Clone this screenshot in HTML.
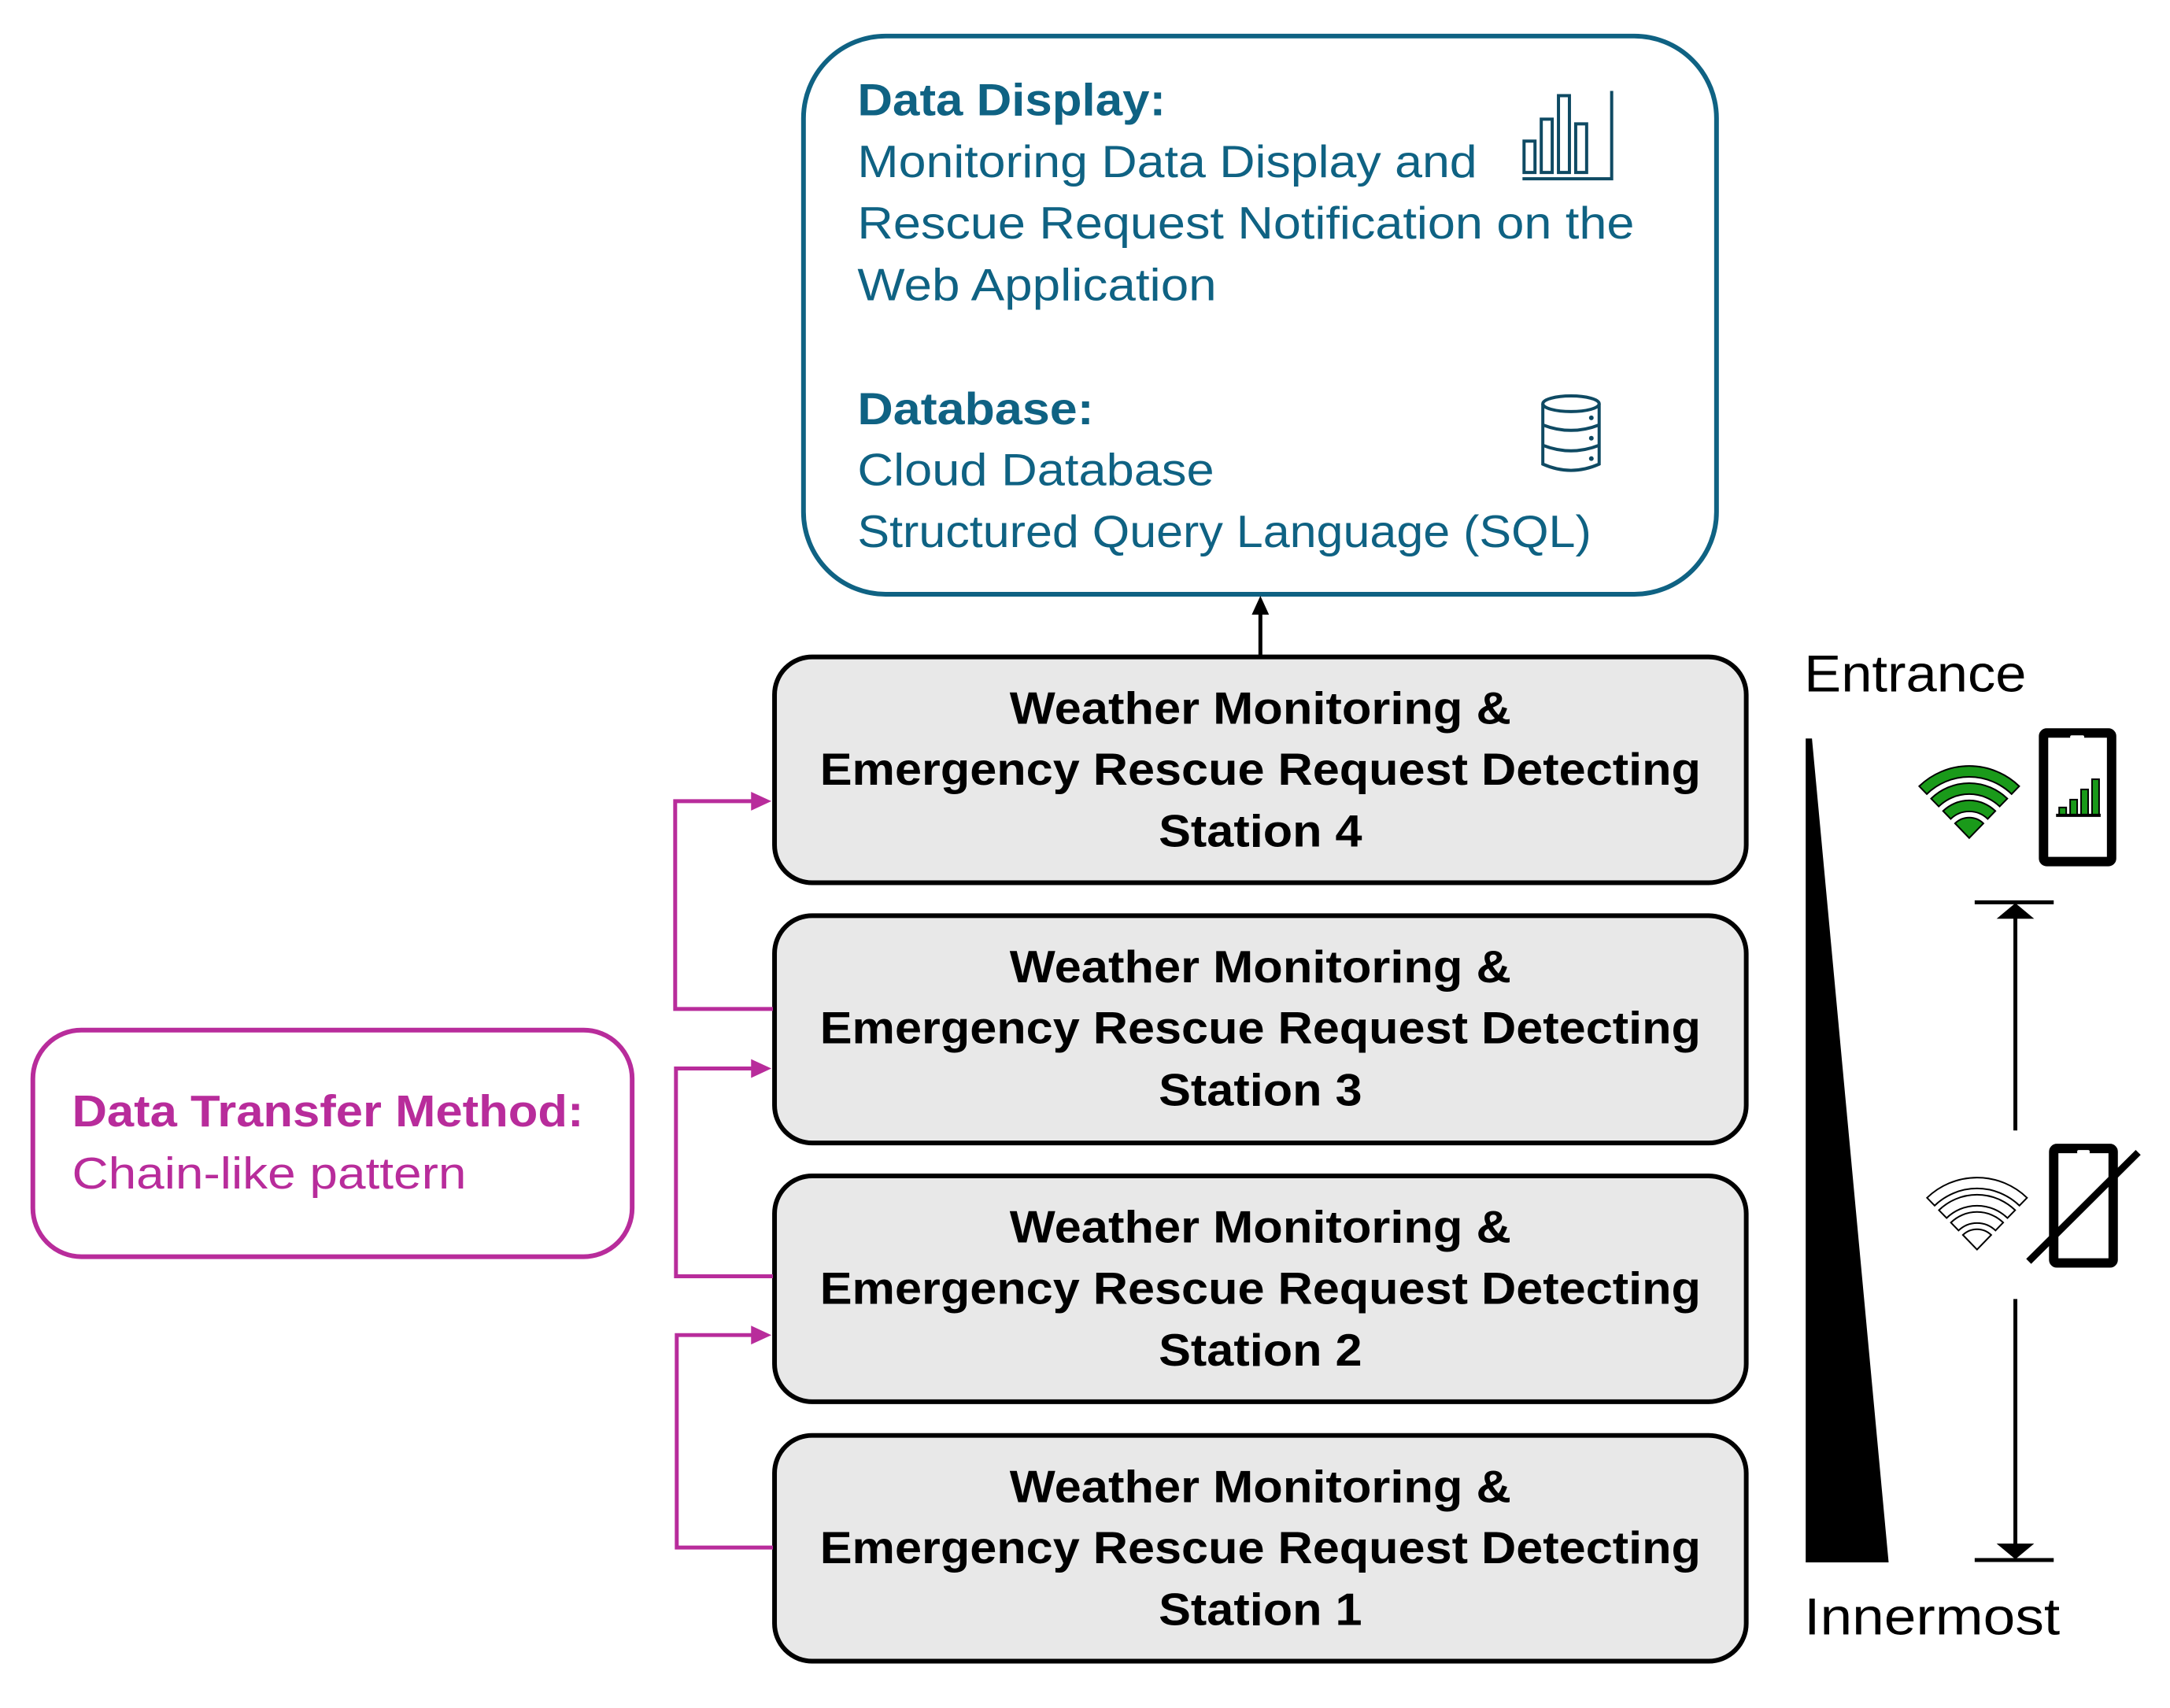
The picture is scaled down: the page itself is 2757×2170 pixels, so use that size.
<!DOCTYPE html>
<html><head><meta charset="utf-8"><style>
html,body{margin:0;padding:0;background:#fff}
svg{display:block}
.t{font-family:"Liberation Sans",sans-serif}
</style></head><body>
<svg width="2757" height="2170" viewBox="0 0 2757 2170" xmlns="http://www.w3.org/2000/svg">
<g transform="scale(0.994,0.996)">
<!-- Top box -->
<rect x="1027" y="46" width="1167" height="712" rx="105" fill="#fff" stroke="#0f6283" stroke-width="6"/>
<g class="t" fill="#0f6283" font-size="58" lengthAdjust="spacingAndGlyphs">
<text x="1096" y="147" font-weight="bold" textLength="394" lengthAdjust="spacingAndGlyphs">Data Display:</text>
<text x="1096" y="226" textLength="792" lengthAdjust="spacingAndGlyphs">Monitoring Data Display and</text>
<text x="1096" y="304" textLength="993" lengthAdjust="spacingAndGlyphs">Rescue Request Notification on the</text>
<text x="1096" y="383" textLength="459" lengthAdjust="spacingAndGlyphs">Web Application</text>
<text x="1096" y="541" font-weight="bold" textLength="302" lengthAdjust="spacingAndGlyphs">Database:</text>
<text x="1096" y="619" textLength="456" lengthAdjust="spacingAndGlyphs">Cloud Database</text>
<text x="1096" y="698" textLength="938" lengthAdjust="spacingAndGlyphs">Structured Query Language (SQL)</text>
</g>
<!-- bar chart icon -->
<g fill="none" stroke="#0f4a63" stroke-width="4">
<rect x="1948" y="180" width="14" height="40"/>
<rect x="1970" y="152" width="14" height="68"/>
<rect x="1992" y="122" width="14" height="98"/>
<rect x="2014" y="158" width="14" height="62"/>
<path d="M2060 116 V228 H1946"/>
</g>
<!-- database icon -->
<g fill="none" stroke="#0f4a63" stroke-width="4">
<ellipse cx="2008" cy="515" rx="36" ry="10"/>
<path d="M1972 515 V592 Q2008 608 2044 592 V515"/>
<path d="M1972 542 Q2008 556 2044 542 M1972 568 Q2008 582 2044 568"/>
</g>
<circle cx="2034" cy="533" r="3" fill="#0f4a63"/><circle cx="2034" cy="559" r="3" fill="#0f4a63"/><circle cx="2034" cy="585" r="3" fill="#0f4a63"/>
<!-- up arrow -->
<line x1="1611" y1="838" x2="1611" y2="780" stroke="#000" stroke-width="5"/>
<path d="M1611 760 L1600 784 L1622 784z" fill="#000"/>
<!-- stations -->
<g stroke="#000" stroke-width="6" fill="#e8e8e8">
<rect x="990" y="838" width="1242" height="288" rx="48"/>
<rect x="990" y="1168" width="1242" height="290" rx="48"/>
<rect x="990" y="1500" width="1242" height="288" rx="48"/>
<rect x="990" y="1831" width="1242" height="288" rx="48"/>
</g>
<g class="t" font-weight="bold" font-size="58" text-anchor="middle" fill="#000">
<text x="1611" y="923" textLength="641" lengthAdjust="spacingAndGlyphs">Weather Monitoring &amp;</text><text x="1611" y="1001" textLength="1126" lengthAdjust="spacingAndGlyphs">Emergency Rescue Request Detecting</text><text x="1611" y="1080" textLength="260" lengthAdjust="spacingAndGlyphs">Station 4</text>
<text x="1611" y="1253" textLength="641" lengthAdjust="spacingAndGlyphs">Weather Monitoring &amp;</text><text x="1611" y="1331" textLength="1126" lengthAdjust="spacingAndGlyphs">Emergency Rescue Request Detecting</text><text x="1611" y="1410" textLength="260" lengthAdjust="spacingAndGlyphs">Station 3</text>
<text x="1611" y="1585" textLength="641" lengthAdjust="spacingAndGlyphs">Weather Monitoring &amp;</text><text x="1611" y="1663" textLength="1126" lengthAdjust="spacingAndGlyphs">Emergency Rescue Request Detecting</text><text x="1611" y="1742" textLength="260" lengthAdjust="spacingAndGlyphs">Station 2</text>
<text x="1611" y="1916" textLength="641" lengthAdjust="spacingAndGlyphs">Weather Monitoring &amp;</text><text x="1611" y="1994" textLength="1126" lengthAdjust="spacingAndGlyphs">Emergency Rescue Request Detecting</text><text x="1611" y="2073" textLength="260" lengthAdjust="spacingAndGlyphs">Station 1</text>
</g>
<!-- magenta connectors -->
<g fill="none" stroke="#b82c9b" stroke-width="5">
<path d="M988 1287 H863 V1022 H970"/>
<path d="M988 1628 H864 V1363 H970"/>
<path d="M988 1974 H865 V1703 H970"/>
</g>
<g fill="#b82c9b">
<path d="M986 1022 L960 1010 L960 1034z"/>
<path d="M986 1363 L960 1351 L960 1375z"/>
<path d="M986 1703 L960 1691 L960 1715z"/>
</g>
<!-- magenta box -->
<rect x="42" y="1314" width="766" height="289" rx="62" fill="#fff" stroke="#b82c9b" stroke-width="6"/>
<g class="t" fill="#b82c9b" font-size="57">
<text x="92" y="1437" font-weight="bold" textLength="654" lengthAdjust="spacingAndGlyphs">Data Transfer Method:</text>
<text x="92" y="1516" textLength="504" lengthAdjust="spacingAndGlyphs">Chain-like pattern</text>
</g>
<!-- right side -->
<g class="t" font-size="66" fill="#000">
<text x="2306" y="882" textLength="284" lengthAdjust="spacingAndGlyphs">Entrance</text>
<text x="2306" y="2085" textLength="327" lengthAdjust="spacingAndGlyphs">Innermost</text>
</g>
<path d="M2308 942 L2316 942 L2414 1993 L2308 1993z" fill="#000"/>
<!-- green wifi -->
<g id="wf" fill="#1a9a1a" stroke="#000" stroke-width="2">
<path d="M2453.1 1002.9 A92 92 0 0 1 2580.9 1002.9 L2571.2 1012.9 A78 78 0 0 0 2462.8 1012.9 Z"/>
<path d="M2468.3 1018.7 A70 70 0 0 1 2565.7 1018.7 L2555.9 1028.7 A56 56 0 0 0 2478.1 1028.7 Z"/>
<path d="M2483.6 1034.5 A48 48 0 0 1 2550.4 1034.5 L2540.6 1044.6 A34 34 0 0 0 2493.4 1044.6 Z"/>
<path d="M2498.9 1050.3 A26 26 0 0 1 2535.1 1050.3 L2517 1069 Z"/>
</g>
<!-- phone 1 -->
<rect x="2612" y="935" width="87" height="164" rx="4" fill="#fff" stroke="#000" stroke-width="12"/>
<rect x="2646" y="938" width="18" height="5" rx="2" fill="#fff"/>
<g fill="#1a9a1a" stroke="#000" stroke-width="2">
<rect x="2632" y="1030" width="9" height="10"/><rect x="2646" y="1020" width="9" height="20"/><rect x="2660" y="1007" width="9" height="33"/><rect x="2674" y="994" width="9" height="46"/>
</g>
<path d="M2628 1040 H2685" stroke="#000" stroke-width="4"/>
<!-- bracket arrows -->
<g stroke="#000" stroke-width="5">
<line x1="2524" y1="1151" x2="2625" y2="1151"/>
<line x1="2576" y1="1165" x2="2576" y2="1442"/>
<line x1="2576" y1="1657" x2="2576" y2="1975"/>
<line x1="2524" y1="1990" x2="2625" y2="1990"/>
</g>
<path d="M2576 1152 L2552 1172 L2600 1172z" fill="#000"/>
<path d="M2576 1989 L2552 1969 L2600 1969z" fill="#000"/>
<!-- outline wifi -->
<g fill="#fff" stroke="#000" stroke-width="2" transform="translate(10,525)">
<path d="M2453.1 1002.9 A92 92 0 0 1 2580.9 1002.9 L2571.2 1012.9 A78 78 0 0 0 2462.8 1012.9 Z"/>
<path d="M2468.3 1018.7 A70 70 0 0 1 2565.7 1018.7 L2555.9 1028.7 A56 56 0 0 0 2478.1 1028.7 Z"/>
<path d="M2483.6 1034.5 A48 48 0 0 1 2550.4 1034.5 L2540.6 1044.6 A34 34 0 0 0 2493.4 1044.6 Z"/>
<path d="M2498.9 1050.3 A26 26 0 0 1 2535.1 1050.3 L2517 1069 Z"/>
</g>
<!-- phone 2 -->
<rect x="2625" y="1465" width="76" height="146" rx="4" fill="#fff" stroke="#000" stroke-width="12"/>
<rect x="2655" y="1467" width="16" height="5" rx="2" fill="#fff"/>
<line x1="2593" y1="1609" x2="2733" y2="1470" stroke="#000" stroke-width="9"/>
</g>
</svg>
</body></html>
